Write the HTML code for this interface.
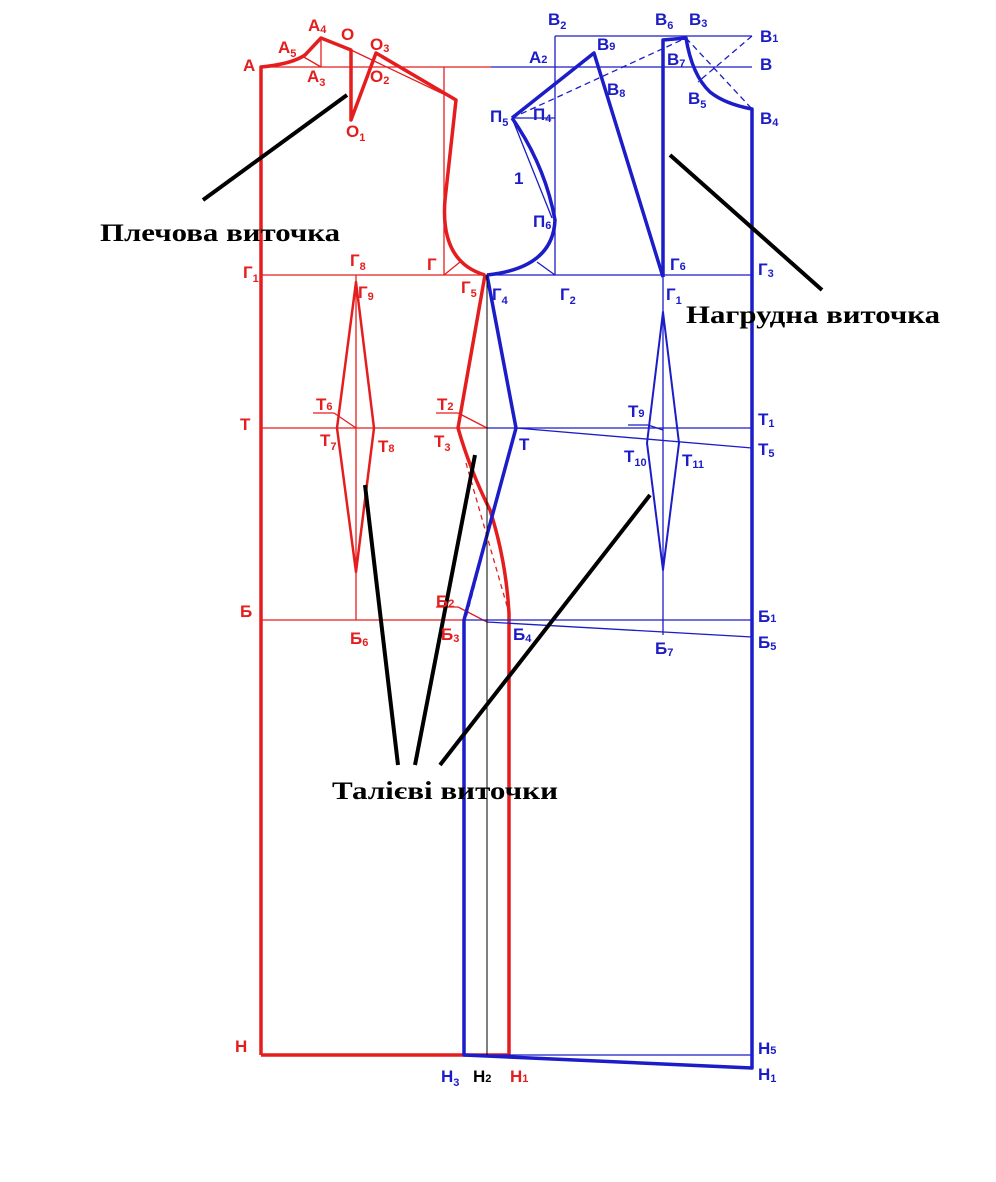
<!DOCTYPE html>
<html><head><meta charset="utf-8"><style>
html,body{margin:0;padding:0;background:#fff}
svg{display:block}
.r{fill:#e41e1e}.b{fill:#1c1cc8}
text{font-family:"Liberation Sans",sans-serif;font-weight:bold;font-size:17px}
.cap{font-family:"Liberation Serif","DejaVu Serif",serif;font-size:25px;fill:#000;font-weight:bold}
</style></head><body>
<svg width="996" height="1182" viewBox="0 0 996 1182" xmlns="http://www.w3.org/2000/svg">
<g fill="none" stroke-linejoin="round">
<g stroke="#e41e1e" stroke-width="1.3">
<line x1="261" y1="67" x2="491" y2="67"/>
<line x1="321" y1="40" x2="321" y2="67"/>
<line x1="302" y1="56" x2="321" y2="67"/>
<line x1="351" y1="50" x2="456" y2="100"/>
<line x1="444" y1="67" x2="444" y2="275"/>
<line x1="444" y1="275" x2="460" y2="262"/>
<line x1="261" y1="275" x2="487" y2="275"/>
<line x1="261" y1="428" x2="487" y2="428"/>
<line x1="261" y1="620" x2="464" y2="620"/>
<line x1="356" y1="275" x2="356" y2="620"/>
<line x1="313" y1="413" x2="334" y2="413"/><line x1="334" y1="413" x2="356" y2="428"/>
<line x1="436" y1="413" x2="458" y2="413"/><line x1="458" y1="413" x2="487" y2="428"/>
<line x1="436" y1="607" x2="458" y2="607"/><line x1="458" y1="607" x2="487" y2="622"/>
<path d="M466 463 L509 613" stroke-dasharray="5 4"/>
</g>
<g stroke="#e41e1e" stroke-width="3.5">
<path d="M261 1055 V67 Q292 64 305 55 L321 38 L351 50 V120 L376 53 L456 100 L445 200 Q440 262 485 275"/>
<path d="M485 275 L458 428 Q470 470 490 510 Q506 560 509 613 V1055 H261"/>
<path d="M356 282 L337 428 L356 572 L374 428 Z" stroke-width="2.5"/>
</g>
<g stroke="#1c1cc8" stroke-width="1.3">
<line x1="491" y1="67" x2="752" y2="67"/>
<line x1="555" y1="36" x2="752" y2="36"/>
<line x1="555" y1="36" x2="555" y2="275"/>
<line x1="512" y1="118" x2="555" y2="118"/>
<line x1="512" y1="118" x2="552" y2="218"/>
<line x1="537" y1="262" x2="555" y2="275"/>
<line x1="487" y1="275" x2="752" y2="275"/>
<line x1="663" y1="275" x2="663" y2="635"/>
<line x1="487" y1="428" x2="752" y2="428"/>
<line x1="516" y1="428" x2="752" y2="448"/>
<line x1="464" y1="620" x2="752" y2="620"/>
<line x1="487" y1="622" x2="752" y2="637"/>
<line x1="464" y1="1055" x2="752" y2="1055"/>
<line x1="628" y1="425" x2="648" y2="425"/><line x1="648" y1="425" x2="663" y2="430"/>
<path d="M512 118 L686 38" stroke-dasharray="6 4"/>
<path d="M686 38 L752 109" stroke-dasharray="6 4"/>
<path d="M752 36 L698 82" stroke-dasharray="6 4"/>
<path d="M516 428 L466 618" stroke-dasharray="5 4"/>
</g>
<g stroke="#1c1cc8" stroke-width="3.5">
<path d="M512 118 L594 53 L663 277"/>
<path d="M663 277 V40 L686 38 Q692 75 710 92 Q725 104 752 109 V1068 L464 1055 V620 L516 428 L487 275"/>
<path d="M512 118 Q545 165 555 220 Q553 268 487 275"/>
<path d="M663 312 L647 443 L663 570 L679 443 Z" stroke-width="2"/>
</g>
<line x1="487" y1="275" x2="487" y2="1055" stroke="#000" stroke-width="1"/>
<g stroke="#000" stroke-width="4">
<line x1="347" y1="95" x2="203" y2="200"/>
<line x1="670" y1="155" x2="822" y2="290"/>
<line x1="365" y1="485" x2="398" y2="765"/>
<line x1="475" y1="455" x2="415" y2="765"/>
<line x1="650" y1="495" x2="440" y2="765"/>
</g>
</g>
<text class="cap" x="100" y="241" textLength="240" lengthAdjust="spacingAndGlyphs">Плечова виточка</text>
<text class="cap" x="686" y="323" textLength="254" lengthAdjust="spacingAndGlyphs">Нагрудна виточка</text>
<text class="cap" x="332" y="799" textLength="226" lengthAdjust="spacingAndGlyphs">Талієві виточки</text>
<g class="r">
<text x="243" y="71">A</text>
<text x="278" y="53">A<tspan font-size="11" dy="4">5</tspan></text>
<text x="308" y="31">A<tspan font-size="11" dy="2">4</tspan></text>
<text x="341" y="40">O</text>
<text x="370" y="50">O<tspan font-size="11" dy="2">3</tspan></text>
<text x="307" y="82">A<tspan font-size="11" dy="4">3</tspan></text>
<text x="370" y="82">O<tspan font-size="11" dy="2">2</tspan></text>
<text x="346" y="137">O<tspan font-size="11" dy="4">1</tspan></text>
<text x="243" y="278">Г<tspan font-size="11" dy="4">1</tspan></text>
<text x="350" y="266">Г<tspan font-size="11" dy="4">8</tspan></text>
<text x="358" y="298">Г<tspan font-size="11" dy="2">9</tspan></text>
<text x="427" y="270">Г</text>
<text x="461" y="293">Г<tspan font-size="11" dy="4">5</tspan></text>
<text x="240" y="430">T</text>
<text x="316" y="410">T<tspan font-size="11" dy="0">6</tspan></text>
<text x="320" y="446">T<tspan font-size="11" dy="4">7</tspan></text>
<text x="378" y="452">T<tspan font-size="11" dy="0">8</tspan></text>
<text x="437" y="410">T<tspan font-size="11" dy="0">2</tspan></text>
<text x="434" y="447">T<tspan font-size="11" dy="4">3</tspan></text>
<text x="240" y="617">Б</text>
<text x="350" y="644">Б<tspan font-size="11" dy="2">6</tspan></text>
<text x="436" y="607">Б<tspan font-size="11" dy="0">2</tspan></text>
<text x="441" y="640">Б<tspan font-size="11" dy="2">3</tspan></text>
<text x="235" y="1052">H</text>
<text x="510" y="1082">H<tspan font-size="11" dy="0">1</tspan></text>
</g>
<g class="b">
<text x="548" y="25">B<tspan font-size="11" dy="4">2</tspan></text>
<text x="655" y="25">B<tspan font-size="11" dy="4">6</tspan></text>
<text x="689" y="25">B<tspan font-size="11" dy="2">3</tspan></text>
<text x="760" y="42">B<tspan font-size="11" dy="0">1</tspan></text>
<text x="529" y="63">A<tspan font-size="11" dy="0">2</tspan></text>
<text x="597" y="50">B<tspan font-size="11" dy="0">9</tspan></text>
<text x="667" y="65">B<tspan font-size="11" dy="2">7</tspan></text>
<text x="760" y="70">B</text>
<text x="607" y="95">B<tspan font-size="11" dy="2">8</tspan></text>
<text x="688" y="104">B<tspan font-size="11" dy="4">5</tspan></text>
<text x="760" y="124">B<tspan font-size="11" dy="2">4</tspan></text>
<text x="490" y="122">П<tspan font-size="11" dy="4">5</tspan></text>
<text x="533" y="120">П<tspan font-size="11" dy="2">4</tspan></text>
<text x="514" y="184">1</text>
<text x="533" y="227">П<tspan font-size="11" dy="2">6</tspan></text>
<text x="670" y="270">Г<tspan font-size="11" dy="0">6</tspan></text>
<text x="758" y="275">Г<tspan font-size="11" dy="2">3</tspan></text>
<text x="492" y="300">Г<tspan font-size="11" dy="4">4</tspan></text>
<text x="560" y="300">Г<tspan font-size="11" dy="4">2</tspan></text>
<text x="666" y="300">Г<tspan font-size="11" dy="4">1</tspan></text>
<text x="628" y="417">T<tspan font-size="11" dy="0">9</tspan></text>
<text x="758" y="425">T<tspan font-size="11" dy="2">1</tspan></text>
<text x="519" y="450">T</text>
<text x="758" y="455">T<tspan font-size="11" dy="2">5</tspan></text>
<text x="624" y="462">T<tspan font-size="11" dy="4">10</tspan></text>
<text x="682" y="466">T<tspan font-size="11" dy="2">11</tspan></text>
<text x="758" y="622">Б<tspan font-size="11" dy="0">1</tspan></text>
<text x="513" y="640">Б<tspan font-size="11" dy="2">4</tspan></text>
<text x="758" y="648">Б<tspan font-size="11" dy="2">5</tspan></text>
<text x="655" y="654">Б<tspan font-size="11" dy="2">7</tspan></text>
<text x="758" y="1054">H<tspan font-size="11" dy="0">5</tspan></text>
<text x="441" y="1082">H<tspan font-size="11" dy="4">3</tspan></text>
<text x="758" y="1080">H<tspan font-size="11" dy="2">1</tspan></text>
</g>
<text x="473" y="1082" fill="#000">H<tspan font-size="11">2</tspan></text>
</svg>
</body></html>
